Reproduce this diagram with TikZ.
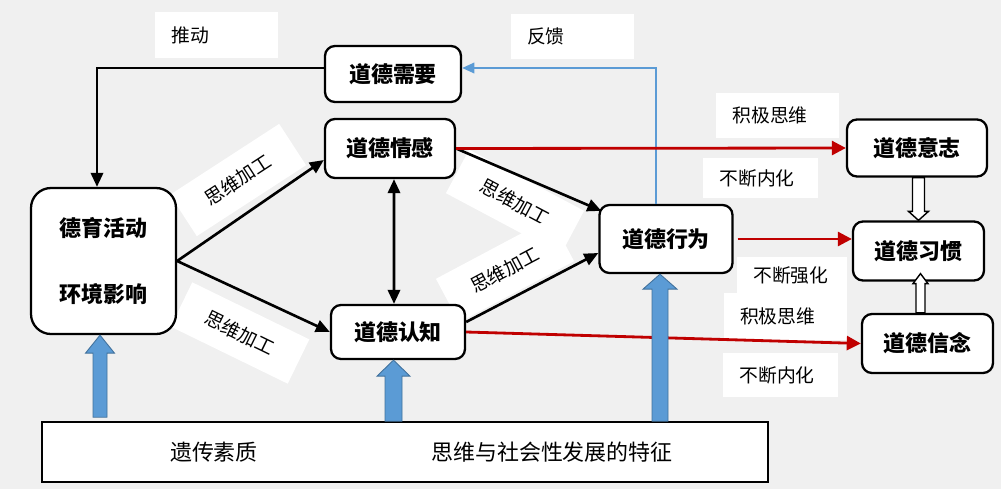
\documentclass[tikz,border=0pt]{standalone}
\usepackage{fontspec}
\setmainfont{Noto Sans CJK SC}
\usetikzlibrary{arrows.meta,calc}
\definecolor{bgcol}{RGB}{240,240,240}
\definecolor{redarr}{RGB}{192,0,0}
\definecolor{blueline}{RGB}{91,155,213}
\definecolor{blueedge}{RGB}{65,113,156}
\newcommand{\fatarrow}[6]{%
  \filldraw[#1] let \p1=(#2), \p2=(#3) in
    (\x2-#4,\y1) -- (\x2-#4,\y2+#6) -- (\x2-#5,\y2+#6) -- (\x2,\y2)
    -- (\x2+#5,\y2+#6) -- (\x2+#4,\y2+#6) -- (\x2+#4,\y1) -- cycle;}

\begin{document}
\begin{tikzpicture}[
  box/.style={draw, line width=1.3pt, rounded corners=0.2cm, fill=white,
    font=\fontsize{12.5}{15}\selectfont\bfseries, inner sep=0pt},
  lbl/.style={fill=white, inner xsep=0.33cm, inner ysep=0pt, text width=1.8cm,
    align=left, font=\fontsize{10.7}{13}\selectfont},
  tilt/.style={fill=white, inner xsep=0.55cm, inner ysep=0.32cm,
    font=\fontsize{10.7}{13}\selectfont},
  blk/.style={line width=1.5pt, -{Triangle[width=7pt,length=8pt]}},
  redline/.style={redarr, line width=1.6pt, -{Triangle[width=8pt,length=8pt]}},
  fb/.style={blueline, line width=1.2pt, -{Triangle[width=6pt,length=7pt]}},
  blockarr/.style={fill=blueline, draw=blueedge, line width=0.5pt},
  hollow/.style={fill=white, draw=black, line width=0.8pt}
]
\useasboundingbox (0,0) rectangle (20.02,-9.78);
\fill[bgcol] (0,0) rectangle (20.02,-9.78);

\node[lbl, minimum height=0.92cm] (push) at (4.33,-0.70) {推动};
\node[lbl, minimum height=0.90cm] (back) at (11.44,-0.73) {反馈};
\node[lbl, minimum height=0.90cm] (pos1) at (15.55,-2.31) {积极思维};
\node[lbl, minimum height=0.80cm, text width=1.64cm] (int1) at (15.21,-3.56) {不断内化};
\node[lbl, minimum height=0.72cm, text width=1.55cm] (str) at (15.84,-5.50) {不断强化};
\node[lbl, minimum height=0.94cm] (pos2) at (15.70,-6.33) {积极思维};
\node[lbl, minimum height=0.88cm, text width=1.64cm] (int2) at (15.61,-7.50) {不断内化};

\node[tilt, rotate=33] (th1) at (4.76,-3.60) {思维加工};
\node[tilt, rotate=-26] (th2) at (4.80,-6.66) {思维加工};
\node[tilt, rotate=-28] (th3) at (10.30,-4.04) {思维加工};
\node[tilt, rotate=28] (th4) at (10.10,-5.40) {思维加工};

\node[box, minimum width=2.72cm, minimum height=1.12cm] (need) at (7.86,-1.48) {道德需要};
\node[box, minimum width=2.6cm, minimum height=1.18cm] (feel) at (7.80,-2.97) {道德情感};
\node[box, rounded corners=0.4cm, minimum width=2.9cm, minimum height=2.92cm,
  align=center] (edu) at (2.07,-5.22) {德育活动\\[23pt]环境影响};
\node[box, minimum width=2.68cm, minimum height=1.08cm] (know) at (7.96,-6.64) {道德认知};
\node[box, minimum width=2.66cm, minimum height=1.36cm] (act) at (13.32,-4.78) {道德行为};
\node[box, minimum width=2.8cm, minimum height=1.14cm] (will) at (18.34,-2.96) {道德意志};
\node[box, minimum width=2.62cm, minimum height=1.18cm] (habit) at (18.37,-5.02) {道德习惯};
\node[box, minimum width=2.62cm, minimum height=1.18cm] (belief) at (18.55,-6.87) {道德信念};

\node[draw, line width=0.9pt, fill=white, minimum width=14.52cm, minimum height=1.2cm,
  inner sep=0pt] (base) at (8.10,-9.04) {};
\node[font=\fontsize{12.5}{15}\selectfont] (gene) at (4.28,-9.04) {遗传素质};
\node[font=\fontsize{12.5}{15}\selectfont] (trait) at (11.04,-9.04) {思维与社会性发展的特征};

\draw[blk] ([yshift=0.12cm]need.west) -| ([xshift=-0.13cm]edu.north);
\draw[fb] ([xshift=-0.2cm]act.north) |- ([yshift=0.12cm]need.east);
\draw[blk] (edu.east) -- ([yshift=-0.23cm]feel.west);
\draw[blk] (edu.east) -- (know.west);
\draw[blk, {Triangle[width=7pt,length=8pt]}-{Triangle[width=7pt,length=8pt]}]
  ([xshift=0.08cm]feel.south) -- ([xshift=-0.08cm]know.north);
\draw[blk] (feel.east) -- ([xshift=0.06cm,yshift=-0.14cm]act.north west);
\draw[blk] ([yshift=0.2cm]know.east) -- ([yshift=-0.28cm]act.west);

\draw[redline] (feel.east) -- (will.west);
\draw[redline] ([xshift=0.08cm]act.east) -- (act.east -| habit.west);
\draw[redline] (know.east) -- (belief.west);

\fatarrow{hollow}{will.south}{habit.north}{0.12cm}{0.2cm}{0.18cm}
\fatarrow{hollow}{belief.north}{[xshift=0.04cm,yshift=0.16cm]habit.south}{0.09cm}{0.15cm}{-0.2cm}

\fatarrow{blockarr}{[yshift=0.08cm]base.north}{[xshift=-0.07cm]edu.south}{0.14cm}{0.29cm}{-0.36cm}
\fatarrow{blockarr}{base.north}{[xshift=-0.09cm]know.south}{0.17cm}{0.33cm}{-0.32cm}
\fatarrow{blockarr}{base.north}{[xshift=-0.12cm]act.south}{0.16cm}{0.34cm}{-0.3cm}
\end{tikzpicture}
\end{document}
